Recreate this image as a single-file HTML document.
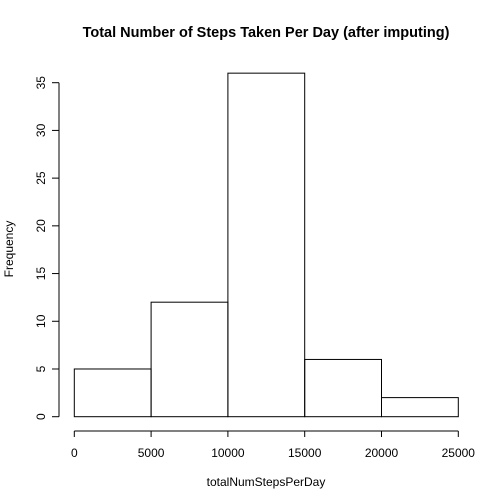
<!DOCTYPE html>
<html><head><meta charset="utf-8"><style>body{margin:0;background:#fff}svg{display:block;font-family:"Liberation Sans",Arial,sans-serif}</style></head>
<body>
<svg id="c" width="504" height="504" xmlns="http://www.w3.org/2000/svg">
<text x="266" y="37" font-size="14.5" font-weight="bold" text-anchor="middle">Total Number of Steps Taken Per Day (after imputing)</text>
<text x="266" y="486" font-size="12" text-anchor="middle">totalNumStepsPerDay</text>
<text transform="translate(13,249) rotate(-90)" font-size="12" text-anchor="middle">Frequency</text>
<g id="bars"></g><g id="xaxis"></g><g id="yaxis"></g>
</svg>
<script>
const breaks = [0, 5000, 10000, 15000, 20000, 25000];
const counts = [5, 12, 36, 6, 2];
const xTicks = [0, 5000, 10000, 15000, 20000, 25000];
const yTicks = [0, 5, 10, 15, 20, 25, 30, 35];
const NS = "http://www.w3.org/2000/svg";
function sx(v){return 74.3 + v/25000*(458.3-74.3);}
function sy(v){return 416.7 - v/35*(416.7-82.7);}
function mk(t,a,p){const e=document.createElementNS(NS,t);for(const k in a)e.setAttribute(k,a[k]);p.appendChild(e);return e;}
const bars=document.getElementById('bars');
counts.forEach((c,i)=>{
  const r=mk('rect',{x:sx(breaks[i]),y:sy(c),width:sx(breaks[i+1])-sx(breaks[i]),height:sy(0)-sy(c),fill:'none',stroke:'#000','stroke-width':1},bars);
  
  
});
const xa=document.getElementById('xaxis');


mk('line',{x1:sx(xTicks[0]),x2:sx(xTicks[xTicks.length-1]),y1:431,y2:431,stroke:'#000'},xa);
xTicks.forEach(t=>{
  mk('line',{x1:sx(t),x2:sx(t),y1:431,y2:437,stroke:'#000'},xa);
  const l=mk('text',{x:sx(t),y:457,'font-size':12,'text-anchor':'middle'},xa);l.textContent=t;
  
  
});
const ya=document.getElementById('yaxis');


mk('line',{x1:59,x2:59,y1:sy(yTicks[0]),y2:sy(yTicks[yTicks.length-1]),stroke:'#000'},ya);
yTicks.forEach(t=>{
  mk('line',{x1:52,x2:59,y1:sy(t),y2:sy(t),stroke:'#000'},ya);
  const l=mk('text',{transform:`translate(45,${sy(t)}) rotate(-90)`,'font-size':12,'text-anchor':'middle'},ya);l.textContent=t;
  
  
});
</script>
</body></html>
